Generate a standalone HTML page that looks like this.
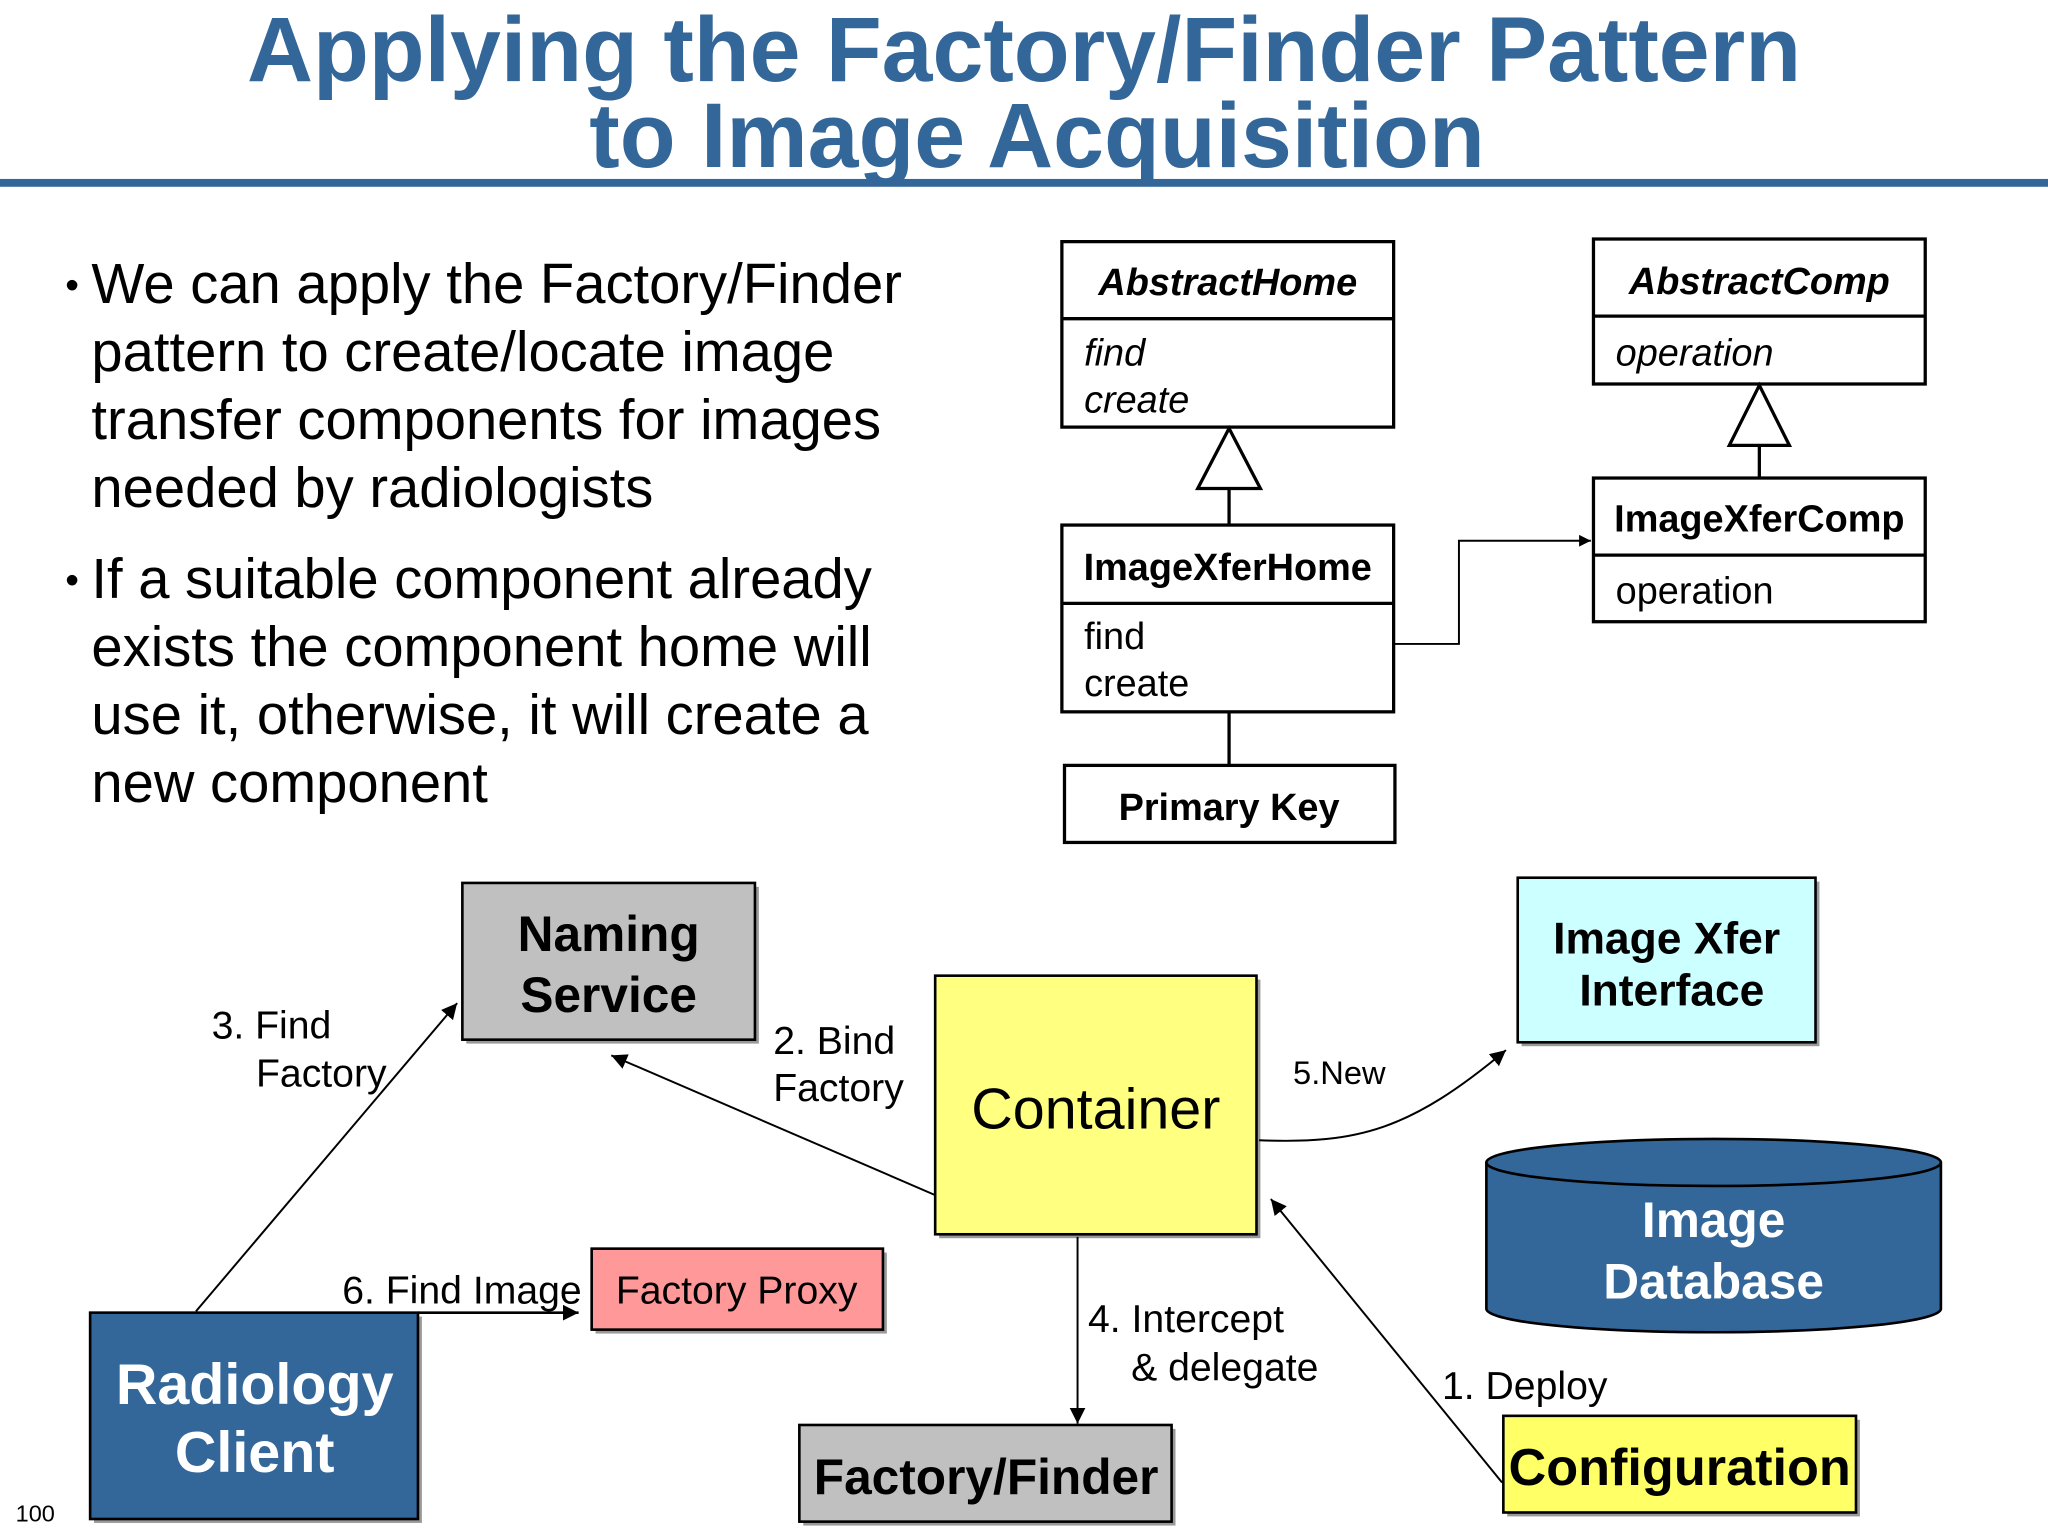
<!DOCTYPE html>
<html><head><meta charset="utf-8"><style>
html,body{margin:0;padding:0;background:#fff;}
svg{display:block;}
text{font-family:"Liberation Sans",sans-serif;}
</style></head><body>
<svg width="2048" height="1536" viewBox="0 0 1568 1176" xmlns="http://www.w3.org/2000/svg">
<defs>
<marker id="ah" viewBox="0 0 10 10" refX="10" refY="5" markerWidth="9" markerHeight="9" markerUnits="userSpaceOnUse" orient="auto"><path d="M0,0 L10,5 L0,10 z" fill="#000"/></marker>
<marker id="ah2" viewBox="0 0 10 10" refX="10" refY="5" markerWidth="12" markerHeight="12" markerUnits="userSpaceOnUse" orient="auto"><path d="M0,0 L10,5 L0,10 z" fill="#000"/></marker>
</defs>
<rect width="1568" height="1176" fill="#fff"/>
<g fill="#336699" font-weight="bold" font-size="70" text-anchor="middle">
<text x="784" y="62">Applying the Factory/Finder Pattern</text>
<text x="794" y="128">to Image Acquisition</text>
</g>
<rect x="0" y="137" width="1568" height="6" fill="#336699"/>
<g font-size="43" fill="#000">
<text x="50" y="228" font-size="30">•</text>
<text x="70" y="232">We can apply the Factory/Finder</text>
<text x="70" y="284">pattern to create/locate image</text>
<text x="70" y="336">transfer components for images</text>
<text x="70" y="388">needed by radiologists</text>
<text x="50" y="454" font-size="30">•</text>
<text x="70" y="458">If a suitable component already</text>
<text x="70" y="510">exists the component home will</text>
<text x="70" y="562">use it, otherwise, it will create a</text>
<text x="70" y="614">new component</text>
</g>
<g stroke="#000" stroke-width="2.5" fill="#fff">
<rect x="813" y="185" width="254" height="142"/><line x1="813" y1="244" x2="1067" y2="244"/>
<polygon points="941,328 917,374 965,374"/><line x1="941" y1="374" x2="941" y2="402"/>
<rect x="813" y="402" width="254" height="143"/><line x1="813" y1="462" x2="1067" y2="462"/>
<line x1="941" y1="545" x2="941" y2="586"/>
<rect x="815" y="586" width="253" height="59"/>
<rect x="1220" y="183" width="254" height="111"/><line x1="1220" y1="242" x2="1474" y2="242"/>
<polygon points="1347,295 1324,341 1370,341"/><line x1="1347" y1="341" x2="1347" y2="366"/>
<rect x="1220" y="366" width="254" height="110"/><line x1="1220" y1="425" x2="1474" y2="425"/>
</g>
<polyline points="1067,493 1117,493 1117,414 1218,414" fill="none" stroke="#000" stroke-width="1.5" marker-end="url(#ah)"/>
<g font-size="29" fill="#000">
<text x="940" y="226" text-anchor="middle" font-weight="bold" font-style="italic">AbstractHome</text>
<text x="830" y="280" font-style="italic">find</text>
<text x="830" y="316" font-style="italic">create</text>
<text x="940" y="444" text-anchor="middle" font-weight="bold">ImageXferHome</text>
<text x="830" y="497">find</text>
<text x="830" y="533">create</text>
<text x="941" y="628" text-anchor="middle" font-weight="bold">Primary Key</text>
<text x="1347" y="225" text-anchor="middle" font-weight="bold" font-style="italic">AbstractComp</text>
<text x="1237" y="280" font-style="italic">operation</text>
<text x="1347" y="407" text-anchor="middle" font-weight="bold">ImageXferComp</text>
<text x="1237" y="462">operation</text>
</g>
<g stroke="#000" stroke-width="2">
<rect x="357" y="679" width="224" height="120" fill="#999" stroke="none"/>
<rect x="354" y="676" width="224" height="120" fill="#c0c0c0"/>
<rect x="719" y="750" width="246" height="198" fill="#999" stroke="none"/>
<rect x="716" y="747" width="246" height="198" fill="#ffff80"/>
<rect x="1165" y="675" width="228" height="126" fill="#999" stroke="none"/>
<rect x="1162" y="672" width="228" height="126" fill="#ccffff"/>
<rect x="456" y="959" width="223" height="62" fill="#999" stroke="none"/>
<rect x="453" y="956" width="223" height="62" fill="#ff9999"/>
<rect x="72" y="1008" width="251" height="158" fill="#999" stroke="none"/>
<rect x="69" y="1005" width="251" height="158" fill="#336699"/>
<rect x="615" y="1094" width="285" height="74" fill="#999" stroke="none"/>
<rect x="612" y="1091" width="285" height="74" fill="#c0c0c0"/>
<rect x="1154" y="1087" width="270" height="74" fill="#999" stroke="none"/>
<rect x="1151" y="1084" width="270" height="74" fill="#ffff66"/>
<path d="M1138,890 L1138,1002 A174,18 0 0 0 1486,1002 L1486,890" fill="#336699"/>
<ellipse cx="1312" cy="890" rx="174" ry="18" fill="#336699"/>
</g>
<g font-weight="bold" text-anchor="middle" fill="#000">
<text x="466" y="728" font-size="38">Naming</text>
<text x="466" y="775" font-size="38">Service</text>
<text x="1276" y="730" font-size="34">Image Xfer</text>
<text x="1280" y="770" font-size="34">Interface</text>
<text x="1312" y="947" font-size="38" fill="#fff">Image</text>
<text x="1312" y="994" font-size="38" fill="#fff">Database</text>
<text x="195" y="1075" font-size="44" fill="#fff">Radiology</text>
<text x="195" y="1127" font-size="44" fill="#fff">Client</text>
<text x="755" y="1144" font-size="38">Factory/Finder</text>
<text x="1286" y="1137" font-size="40">Configuration</text>
</g>
<text x="839" y="864" font-size="44" text-anchor="middle">Container</text>
<text x="564" y="998" font-size="30" text-anchor="middle">Factory Proxy</text>
<g stroke="#000" stroke-width="1.5" fill="none">
<line x1="150" y1="1004" x2="350" y2="768" marker-end="url(#ah2)"/>
<line x1="716" y1="915" x2="468" y2="808" marker-end="url(#ah2)"/>
<path d="M964,873 C1040,876 1080,865 1153,804" marker-end="url(#ah2)"/>
<line x1="825" y1="947" x2="825" y2="1090" marker-end="url(#ah2)"/>
<line x1="1150" y1="1135" x2="973" y2="918" marker-end="url(#ah2)"/>
<line x1="320" y1="1005" x2="443" y2="1005" stroke-width="2" marker-end="url(#ah2)"/>
</g>
<g font-size="30" fill="#000">
<text x="162" y="795">3. Find</text>
<text x="196" y="832">Factory</text>
<text x="592" y="807">2. Bind</text>
<text x="592" y="843">Factory</text>
<text x="990" y="830" font-size="25">5.New</text>
<text x="833" y="1020">4. Intercept</text>
<text x="866" y="1057">&amp; delegate</text>
<text x="1104" y="1071">1. Deploy</text>
<text x="262" y="998">6. Find Image</text>
<text x="12" y="1165" font-size="18">100</text>
</g>
</svg>
</body></html>
